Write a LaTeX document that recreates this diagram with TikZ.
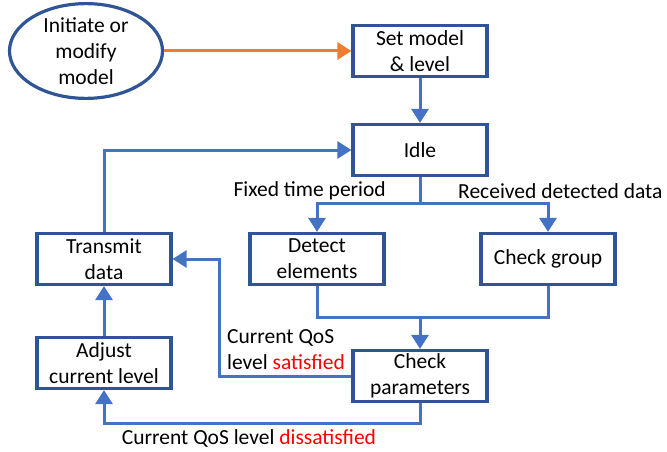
\documentclass[tikz,border=0pt]{standalone}
\usepackage{fontspec}
\setmainfont{Carlito}
\usetikzlibrary{shapes, arrows.meta, positioning, calc}

\definecolor{boxblue}{RGB}{47,85,151}
\definecolor{lineblue}{RGB}{68,114,196}
\definecolor{lineorange}{RGB}{237,125,49}

\begin{document}
\begin{tikzpicture}[
        x=1pt, y=-1pt,
        every node/.style={font=\fontsize{21.5}{26}\selectfont},
        startnode/.style={ellipse, draw=boxblue, line width=3.2pt, minimum width=153pt, minimum height=86pt, align=center, inner sep=0pt},
        process/.style={rectangle, draw=boxblue, line width=3.2pt, minimum width=134pt, minimum height=51pt, align=center, inner sep=2pt},
        line/.style={draw=lineblue, line width=3pt},
        arrow/.style={line, -{Triangle[width=17pt,length=14pt]}},
        orangearrow/.style={draw=lineorange, line width=3pt, -{Triangle[width=17pt,length=14pt]}},
        label/.style={inner sep=1pt, align=left}
    ]
        \useasboundingbox (0,0) rectangle (667,452);

        \node[startnode] (init) at (86,51) {Initiate or\\modify\\model};
        \node[process] (setmodel) at (420,51) {Set model\\\& level};
        \node[process] (idle) at (420,150) {Idle};
        \node[process] (detect) at (317,259) {Detect\\elements};
        \node[process] (checkgroup) at (548,259) {Check group};
        \node[process] (transmit) at (104,259) {Transmit\\data};
        \node[process] (adjust) at (104,363) {Adjust\\current level};
        \node[process] (checkparams) at (420,376) {Check\\parameters};

        \coordinate (split) at (420,203);
        \coordinate (join) at (420,317);
        \coordinate (sat) at (219,376);
        \coordinate (dis) at (420,423);

        \node[label, anchor=east] (fixedlbl) at (387,191) {Fixed time period};
        \node[label, anchor=west] (recvlbl) at (457,191) {Received detected data};
        \node[label, anchor=west, text depth=0pt] (satlbl) at (226,350) {Current QoS\\level \textcolor{red}{satisfied}};
        \node[label] (dislbl) at (249,438) {Current QoS level \textcolor{red}{dissatisfied}};

        \draw[orangearrow] (init) -- (setmodel);
        \draw[arrow] (setmodel) -- (idle);
        \draw[line] (idle) -- (split);
        \draw[arrow] (split) -| (detect);
        \draw[arrow] (split) -| (checkgroup);
        \draw[line] (detect) |- (join);
        \draw[line] (checkgroup) |- (join);
        \draw[arrow] (join) -- (checkparams);
        \draw[arrow] (checkparams.west) -- (sat) |- (transmit);
        \draw[arrow] (transmit) |- (idle);
        \draw[arrow] (adjust) -- (transmit);
        \draw[arrow] (checkparams) -- (dis) -| (adjust);
    \end{tikzpicture}
\end{document}
